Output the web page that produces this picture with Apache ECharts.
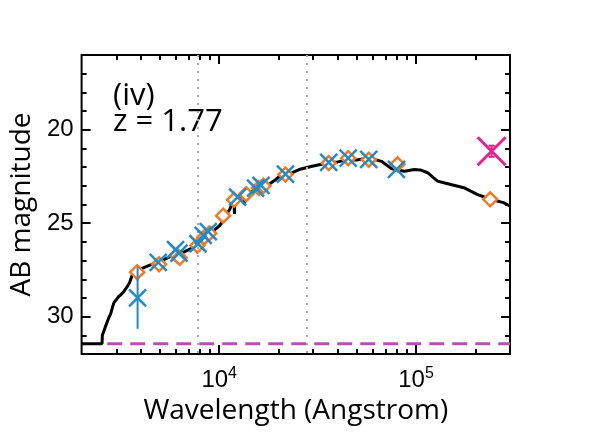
<!DOCTYPE html>
<html>
<head>
    <meta charset="utf-8" />
    <title>SED (iv)</title>
    <style>
        html, body { margin: 0; padding: 0; background: #fff; }
        #main { width: 598px; height: 438px; }
    </style>
</head>
<body>
    <div id="main"></div>
    <script src="https://cdn.jsdelivr.net/npm/echarts@6/dist/echarts.min.js"></script>
    <script type="text/javascript">
        // model SED (black line)
        var sedWave = [2000, 2540, 2550, 2600, 2640, 2700, 2740, 2810, 2870, 2920, 3000, 3070, 3150, 3280, 3350, 3410,
            3500, 3610, 3700, 3830, 4000, 4380, 4700, 5110, 5600, 6200, 6600, 7230, 7690, 8300, 8980, 9500, 10000,
            10270, 10500, 10880, 11100, 11320, 11600, 11900, 11950, 12000, 12700, 13300, 13400, 13500, 14260, 15000,
            16630, 18000, 19410, 20970, 21740, 23500, 25470, 29660, 35960, 40000, 45370, 50000, 57160, 62000, 66680,
            70000, 74820, 80000, 87300, 97950, 105000, 114500, 122000, 128500, 140000, 149900, 174900, 204100,
            238200, 277900, 300000];
        var sedMag = [31.45, 31.45, 31.0, 30.9, 30.55, 30.5, 30.1, 29.85, 29.5, 29.25, 29.1, 28.95, 28.85, 28.65, 28.7, 28.4,
            28.2, 27.8, 27.7, 27.55, 27.45, 27.27, 27.15, 27.0, 26.8, 26.65, 26.55, 26.35, 26.12, 25.85, 25.6, 25.35, 25.15,
            25.0, 24.85, 24.75, 24.4, 24.25, 24.0, 23.8, 24.5, 23.9, 23.72, 23.45, 24.0, 23.45, 23.37, 23.25,
            23.1, 22.9, 22.66, 22.35, 22.4, 22.3, 22.13, 21.95, 21.77, 21.72, 21.6, 21.62, 21.51, 21.6, 21.69,
            21.85, 22.07, 22.15, 22.22, 22.13, 22.15, 22.3, 22.55, 22.75, 22.85, 22.93, 23.1, 23.46,
            23.72, 23.9, 24.08];

        // model photometry (orange diamonds)
        var modWave = [3830, 4950, 6100, 6300, 7750, 8400, 8900, 10470, 11900, 13700, 15900, 16800, 21700, 36000, 45200, 57500, 80500, 238000];
        var modMag = [27.62, 27.2, 26.72, 26.85, 26.2, 25.75, 25.55, 24.6, 23.75, 23.45, 23.12, 23.0, 22.4, 21.78, 21.52, 21.6, 21.85, 23.72];

        // observed photometry (blue crosses)
        var obsWave = [3850, 4900, 6000, 6250, 7800, 8300, 8800, 12400, 15300, 16300, 21700, 36000, 45200, 57500, 79500];
        var obsMag = [29.0, 27.1, 26.42, 26.6, 26.1, 25.65, 25.45, 23.6, 23.12, 22.98, 22.38, 21.75, 21.52, 21.58, 22.12];
        var obsErrWave = [3850];
        var obsErrLo = [27.35];
        var obsErrHi = [30.65];

        // far-IR point (pink)
        var firWave = [242000];
        var firMag = [21.15];
        var firLo = [20.85];
        var firHi = [21.45];

        // limit line and reference wavelengths
        var limitWave = [2700, 300000];
        var limitMag = [31.45, 31.45];
        var refWave = [7800, 28000];

        var xMajor = [10000, 100000];
        var xMinor = [3000, 4000, 5000, 6000, 7000, 8000, 9000, 20000, 30000, 40000, 50000, 60000, 70000, 80000, 90000, 200000];
        var yMajor = [20, 25, 30];
        var yMinor = [17, 18, 19, 21, 22, 23, 24, 26, 27, 28, 29, 31];

        function pairs(xs, ys) {
            return xs.map(function (x, i) { return [x, ys[i]]; });
        }
        function triples(xs, a, b) {
            return xs.map(function (x, i) { return [x, a[i], b[i]]; });
        }

        var crossPath = 'path://M0,0L10,10M10,0L0,10';

        function errBar(color, cap) {
            return function (params, api) {
                var p1 = api.coord([api.value(0), api.value(1)]);
                var p2 = api.coord([api.value(0), api.value(2)]);
                var st = { stroke: color, lineWidth: 2 };
                var kids = [{ type: 'line', shape: { x1: p1[0], y1: p1[1], x2: p2[0], y2: p2[1] }, style: st }];
                if (cap) {
                    kids.push({ type: 'line', shape: { x1: p1[0] - cap, y1: p1[1], x2: p1[0] + cap, y2: p1[1] }, style: st });
                    kids.push({ type: 'line', shape: { x1: p2[0] - cap, y1: p2[1], x2: p2[0] + cap, y2: p2[1] }, style: st });
                }
                return { type: 'group', children: kids };
            };
        }

        var tickLine = { color: '#000', width: 2 };

        function xAx(pos, values, len, labels) {
            return {
                type: 'log', logBase: 10, min: 2000, max: 300000, position: pos,
                axisLine: { show: false, onZero: false },
                splitLine: { show: false },
                axisTick: { show: true, inside: true, length: len, lineStyle: tickLine, customValues: values },
                axisLabel: labels ? {
                    customValues: xMajor, margin: 12, color: '#000',
                    formatter: function (v) { return '{b|10}{s|' + Math.round(Math.log10(v)) + '}'; },
                    rich: {
                        b: { fontFamily: 'Liberation Sans', fontSize: 24, color: '#000' },
                        s: { fontFamily: 'Liberation Sans', fontSize: 16, color: '#000', padding: [0, 0, 12, 0] }
                    }
                } : { show: false },
                name: labels ? 'Wavelength (Angstrom)' : '',
                nameLocation: 'middle', nameGap: 38,
                nameTextStyle: { fontFamily: 'Open Sans', fontSize: 28, color: '#000' }
            };
        }
        function yAx(pos, values, len, labels) {
            return {
                type: 'value', min: 16, max: 32, inverse: true, position: pos,
                axisLine: { show: false, onZero: false },
                splitLine: { show: false },
                axisTick: { show: true, inside: true, length: len, lineStyle: tickLine, customValues: values },
                axisLabel: labels ? {
                    customValues: yMajor, margin: 8, color: '#000',
                    fontFamily: 'Liberation Sans', fontSize: 24
                } : { show: false },
                name: labels ? 'AB magnitude' : '',
                nameLocation: 'middle', nameGap: 40,
                nameTextStyle: { fontFamily: 'Open Sans', fontSize: 28, color: '#000' }
            };
        }

        var chart = echarts.init(document.getElementById('main'));
        var option = {
            animation: false,
            backgroundColor: '#fff',
            grid: { left: 78, right: 88, top: 55, bottom: 84, show: true, borderColor: '#000', borderWidth: 2, backgroundColor: 'transparent' },
            xAxis: [xAx('bottom', xMajor, 9, true), xAx('top', xMajor, 9, false), xAx('bottom', xMinor, 5, false), xAx('top', xMinor, 5, false)],
            yAxis: [yAx('left', yMajor, 9, true), yAx('right', yMajor, 9, false), yAx('left', yMinor, 5, false), yAx('right', yMinor, 5, false)],
            graphic: [
                { type: 'text', left: 113, top: 81, style: { text: '(iv)', fontFamily: 'Open Sans', fontSize: 31, fill: '#000' } },
                { type: 'text', left: 113, top: 107, style: { text: 'z = 1.77', fontFamily: 'Open Sans', fontSize: 31, fill: '#000' } }
            ],
            series: [
                {
                    type: 'line', data: [], silent: true, z: 1,
                    markLine: {
                        silent: true, symbol: 'none', label: { show: false },
                        lineStyle: { color: '#aaa', type: [2, 6], width: 2 },
                        data: refWave.map(function (w) { return { xAxis: w }; })
                    }
                },
                {
                    type: 'line', data: pairs(limitWave, limitMag), showSymbol: false, z: 2,
                    lineStyle: { color: '#b84fb4', width: 3, type: [15, 8] }
                },
                {
                    type: 'line', data: pairs(sedWave, sedMag), showSymbol: false, z: 3,
                    lineStyle: { color: '#000', width: 3 }
                },
                {
                    type: 'scatter', data: pairs(modWave, modMag), symbol: 'diamond', symbolSize: 14, z: 4,
                    itemStyle: { color: '#fff', borderColor: '#f07a24', borderWidth: 2.5, opacity: 1 }
                },
                {
                    type: 'custom', data: triples(obsErrWave, obsErrLo, obsErrHi), z: 5,
                    renderItem: errBar('#1f8bcb', 0), encode: { x: 0, y: [1, 2] }
                },
                {
                    type: 'scatter', data: pairs(obsWave, obsMag), symbol: crossPath, symbolSize: 17, z: 6,
                    itemStyle: { color: 'none', borderColor: '#1f8bcb', borderWidth: 2.5, opacity: 1 }
                },
                {
                    type: 'custom', data: triples(firWave, firLo, firHi), z: 7,
                    renderItem: errBar('#e8228a', 3), encode: { x: 0, y: [1, 2] }
                },
                {
                    type: 'scatter', data: pairs(firWave, firMag), symbol: crossPath, symbolSize: 28, z: 8,
                    itemStyle: { color: 'none', borderColor: '#e8228a', borderWidth: 3, opacity: 1 }
                }
            ]
        };
        chart.setOption(option);
    </script>
</body>
</html>
